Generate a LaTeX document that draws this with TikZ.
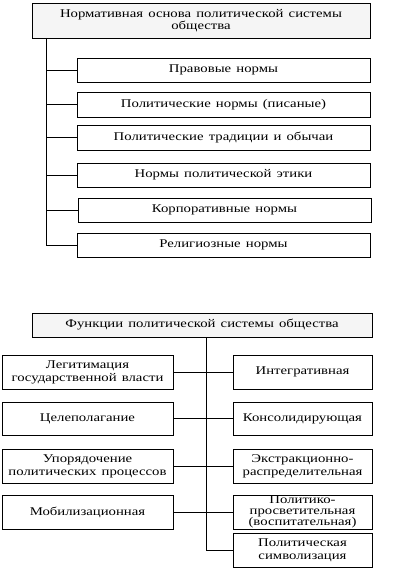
\documentclass[tikz,border=0pt]{standalone}
\usepackage{fontspec}
\setmainfont{Liberation Serif}[FakeStretch=1.25, WordSpace=1.4]
\usetikzlibrary{shadows}
\tikzset{
  x=1pt, y=-1pt,
  box/.style={draw=black, line width=0.9pt, fill=white, align=center, font=\fontsize{11.8}{13}\selectfont,
    drop shadow={shadow xshift=1.2pt, shadow yshift=-1.2pt, fill=black!70, opacity=0.8}},
  head/.style={box, fill=gray!8, font=\fontsize{11.8}{11.8}\selectfont},
  tight/.style={font=\fontsize{11.8}{11.3}\selectfont},
  tie/.style={line width=0.9pt, black}
}
\newcommand{\bx}[6]{\node[#1, minimum width={#4-#2}, minimum height={#5-#3}, inner sep=0pt] (#6) at ({(#2+#4)/2},{(#3+#5)/2})}
\begin{document}
\begin{tikzpicture}
\useasboundingbox (0,0) rectangle (401,578);
% top diagram
\bx{head}{32}{3}{370}{38}{h1} {Нормативная основа политической системы\\общества};
\bx{box}{77}{58}{370}{82}{a1} {Правовые нормы};
\bx{box}{77}{92}{370}{117}{a2} {Политические нормы (писаные)};
\bx{box}{77}{125}{370}{150}{a3} {Политические традиции и обычаи};
\bx{box}{77}{163}{370}{187}{a4} {Нормы политической этики};
\bx{box}{78}{198}{371}{222}{a5} {Корпоративные нормы};
\bx{box}{77}{233}{370}{257}{a6} {Религиозные нормы};
\coordinate (v0) at (46,38);
\coordinate (v6) at (46,245);
\draw[tie] (v0) -- (v6) -- (a6.west);
\foreach \i in {1,...,5} { \draw[tie] (46,0 |- a\i.west) -- (a\i.west); }
% bottom diagram
\bx{head}{32}{313}{372}{337}{h2} {Функции политической системы общества};
\bx{box}{2}{355}{173}{389}{l1} {Легитимация\\государственной власти};
\bx{box}{2}{402}{173}{435}{l2} {Целеполагание};
\bx{box}{2}{449}{173}{483}{l3} {Упорядочение\\политических процессов};
\bx{box}{2}{495}{173}{529}{l4} {Мобилизационная};
\bx{box}{233}{355}{372}{389}{r1} {Интегративная};
\bx{box}{233}{402}{372}{435}{r2} {Консолидирующая};
\bx{box}{233}{449}{372}{483}{r3} {Экстракционно-\\распределительная};
\bx{box,tight}{233}{495}{372}{529}{r4} {Политико-\\просветительная\\(воспитательная)};
\bx{box}{233}{533}{372}{567}{r5} {Политическая\\символизация};
\coordinate (w0) at (206,337);
\coordinate (w5) at (206,0 |- r5.west);
\draw[tie] (h2.south -| w0) -- (w5) -- (r5.west);
\foreach \i in {1,...,4} { \draw[tie] (l\i.east) -- (r\i.west); }
\end{tikzpicture}
\end{document}
